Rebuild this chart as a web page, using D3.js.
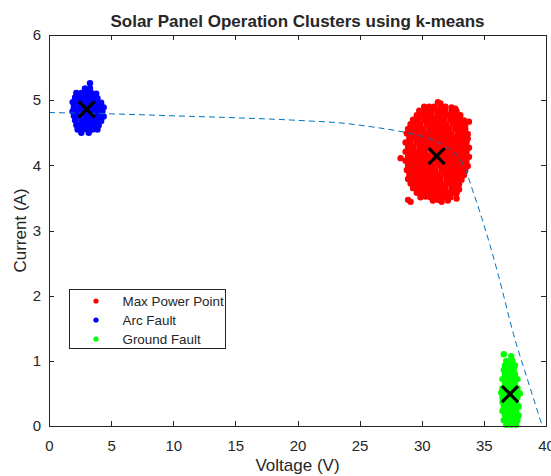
<!DOCTYPE html>
<html>
<head>
<meta charset="utf-8">
<script src="https://cdn.jsdelivr.net/npm/d3@7"></script>
<style>
  body { margin: 0; background: #fff; }
  text { font-family: "Liberation Sans", Arial, Helvetica, sans-serif; fill: #262626; }
</style>
</head>
<body>
<div id="chart"></div>
<script>
// axis ticks
var xTicks = [0, 5, 10, 15, 20, 25, 30, 35, 40];
var yTicks = [0, 1, 2, 3, 4, 5, 6];

// cluster samples [voltage, current]
var maxPower = [
  [31.5,4.95],[31.3,4.97],[30.0,4.82],[33.8,4.67],[28.3,4.11],[28.9,3.47],[30.3,3.52],[31.6,3.44],[32.8,3.49],[33.1,4.77],
  [30.2,4.90],[30.6,4.90],[31.0,4.90],[31.5,4.90],[31.9,4.90],[32.4,4.89],[32.7,4.87],
  [29.8,4.84],[30.3,4.84],[30.7,4.84],[31.1,4.84],[31.5,4.84],[31.9,4.84],[32.4,4.84],[32.8,4.83],
  [29.6,4.77],[30.0,4.77],[30.4,4.77],[30.8,4.77],[31.3,4.77],[31.7,4.77],[32.1,4.77],[32.5,4.77],[32.9,4.77],
  [29.3,4.70],[29.7,4.70],[30.2,4.70],[30.6,4.70],[31.0,4.70],[31.4,4.70],[31.8,4.70],[32.3,4.70],[32.7,4.70],[33.1,4.70],[33.4,4.69],
  [29.1,4.63],[29.5,4.63],[29.9,4.63],[30.4,4.63],[30.8,4.63],[31.2,4.63],[31.6,4.63],[32.0,4.63],[32.5,4.63],[32.9,4.63],[33.3,4.63],[33.5,4.61],
  [28.9,4.56],[29.3,4.56],[29.7,4.56],[30.1,4.56],[30.6,4.56],[31.0,4.56],[31.4,4.56],[31.8,4.56],[32.2,4.56],[32.7,4.56],[33.1,4.56],[33.5,4.56],
  [28.8,4.49],[29.2,4.49],[29.6,4.49],[30.0,4.49],[30.4,4.49],[30.8,4.49],[31.2,4.49],[31.6,4.49],[32.0,4.49],[32.4,4.49],[32.9,4.49],[33.3,4.49],[33.7,4.48],
  [29.0,4.42],[29.4,4.42],[29.8,4.42],[30.2,4.42],[30.6,4.42],[31.0,4.42],[31.4,4.42],[31.8,4.42],[32.2,4.42],[32.6,4.42],[33.0,4.42],[33.4,4.42],[33.7,4.41],
  [28.7,4.35],[29.1,4.35],[29.6,4.35],[30.0,4.35],[30.4,4.35],[30.8,4.35],[31.2,4.35],[31.6,4.35],[32.0,4.35],[32.4,4.35],[32.8,4.35],[33.2,4.35],[33.6,4.35],
  [28.9,4.28],[29.3,4.28],[29.8,4.28],[30.2,4.28],[30.6,4.28],[31.0,4.28],[31.4,4.28],[31.8,4.28],[32.2,4.28],[32.6,4.28],[33.0,4.28],[33.4,4.28],[33.8,4.27],
  [28.7,4.21],[29.1,4.21],[29.5,4.21],[29.9,4.21],[30.3,4.21],[30.8,4.21],[31.2,4.21],[31.6,4.21],[32.0,4.21],[32.4,4.21],[32.8,4.21],[33.2,4.21],[33.6,4.21],
  [28.9,4.14],[29.3,4.14],[29.7,4.14],[30.1,4.14],[30.5,4.14],[31.0,4.14],[31.4,4.14],[31.8,4.14],[32.2,4.14],[32.6,4.14],[33.0,4.14],[33.4,4.14],[33.8,4.13],
  [28.7,4.07],[29.1,4.07],[29.5,4.07],[29.9,4.07],[30.3,4.07],[30.7,4.07],[31.2,4.07],[31.6,4.07],[32.0,4.07],[32.4,4.07],[32.8,4.07],[33.2,4.07],[33.6,4.07],
  [28.9,4.00],[29.3,4.00],[29.7,4.00],[30.1,4.00],[30.5,4.00],[30.9,4.00],[31.4,4.00],[31.8,4.00],[32.2,4.00],[32.6,4.00],[33.0,4.00],[33.4,4.00],[33.7,3.99],
  [28.8,3.93],[29.1,3.93],[29.5,3.93],[29.9,3.93],[30.3,3.93],[30.7,3.93],[31.1,3.93],[31.6,3.93],[32.0,3.93],[32.4,3.93],[32.8,3.93],[33.2,3.93],[33.5,3.92],
  [29.0,3.86],[29.3,3.86],[29.7,3.86],[30.1,3.86],[30.5,3.86],[30.9,3.86],[31.3,3.86],[31.8,3.86],[32.2,3.86],[32.6,3.86],[33.0,3.86],[33.4,3.85],
  [28.9,3.79],[29.2,3.79],[29.5,3.79],[29.9,3.79],[30.3,3.79],[30.7,3.79],[31.1,3.79],[31.5,3.79],[32.0,3.79],[32.4,3.79],[32.8,3.79],[33.2,3.78],
  [29.1,3.72],[29.4,3.72],[29.7,3.72],[30.1,3.72],[30.5,3.72],[30.9,3.72],[31.3,3.72],[31.7,3.72],[32.2,3.72],[32.6,3.72],[33.0,3.71],
  [29.3,3.65],[29.6,3.65],[29.9,3.65],[30.3,3.65],[30.7,3.65],[31.1,3.65],[31.5,3.65],[31.9,3.65],[32.4,3.65],[32.8,3.65],[33.0,3.63],
  [29.6,3.58],[29.9,3.58],[30.1,3.58],[30.5,3.58],[30.9,3.58],[31.3,3.58],[31.7,3.58],[32.1,3.58],[32.5,3.58],[32.8,3.57],
  [29.9,3.51],[30.7,3.51],[31.1,3.51],[31.5,3.51],[31.9,3.51],[32.3,3.51],
  [29.1,3.44],[30.9,3.46],[31.3,3.47],[32.1,3.46]
];

var arcFault = [
  [3.3,5.26],
  [2.9,5.18],[3.3,5.18],
  [2.2,5.11],[2.6,5.11],[3.0,5.11],[3.4,5.11],[3.8,5.10],
  [2.1,5.04],[2.4,5.04],[2.8,5.04],[3.2,5.04],[3.6,5.04],[3.9,5.03],
  [1.9,4.97],[2.3,4.97],[2.7,4.97],[3.1,4.97],[3.5,4.97],[3.9,4.97],[4.2,4.96],
  [2.0,4.90],[2.5,4.90],[2.9,4.90],[3.3,4.90],[3.7,4.90],[4.1,4.90],[4.4,4.89],
  [1.9,4.83],[2.3,4.83],[2.7,4.83],[3.1,4.83],[3.5,4.83],[3.9,4.83],[4.3,4.83],
  [2.0,4.76],[2.4,4.76],[2.9,4.76],[3.3,4.76],[3.7,4.76],[4.1,4.76],[4.4,4.75],
  [2.1,4.69],[2.6,4.69],[3.0,4.69],[3.4,4.69],[3.8,4.69],[4.2,4.68],
  [2.2,4.62],[2.5,4.62],[2.9,4.62],[3.3,4.62],[3.7,4.62],[4.0,4.61],
  [2.3,4.55],[2.7,4.55],[3.1,4.55],[3.5,4.55],[3.9,4.55],
  [2.6,4.50],[3.2,4.50]
];

var groundFault = [
  [36.6,1.10],[37.2,1.07],
  [36.8,1.00],[37.3,1.00],
  [36.7,0.93],[37.1,0.93],[37.5,0.93],
  [36.6,0.86],[37.0,0.86],[37.4,0.86],
  [36.7,0.79],[37.1,0.79],[37.5,0.79],
  [36.5,0.72],[36.9,0.72],[37.3,0.72],[37.7,0.72],
  [36.7,0.65],[37.1,0.65],[37.5,0.65],
  [36.5,0.58],[36.9,0.58],[37.3,0.58],[37.7,0.58],
  [36.4,0.51],[36.8,0.51],[37.2,0.51],[37.6,0.51],[37.9,0.50],
  [36.5,0.44],[36.9,0.44],[37.3,0.44],[37.7,0.44],
  [36.5,0.37],[36.8,0.37],[37.2,0.37],[37.6,0.37],
  [36.6,0.30],[37.0,0.30],[37.4,0.30],[37.8,0.30],
  [36.5,0.23],[36.8,0.23],[37.2,0.23],[37.6,0.23],
  [36.7,0.16],[37.0,0.16],[37.4,0.16],[37.8,0.16],
  [36.6,0.09],[36.9,0.09],[37.3,0.09],[37.7,0.09],
  [36.8,0.02],[37.2,0.02],[37.6,0.02]
];

// k-means centroids
var centroids = [[31.2, 4.14], [3.03, 4.86], [37.1, 0.49]];

// I-V curve (dashed)
var ivCurve = [
  [0,4.81],[5,4.79],[10,4.76],[15,4.73],[20,4.69],[24,4.64],[26,4.59],[28,4.53],
  [29.5,4.47],[30.5,4.42],[31.5,4.33],[32.3,4.24],[32.9,4.14],[33.6,3.90],[34.0,3.67],
  [34.7,3.27],[35.5,2.77],[36.2,2.29],[37.4,1.40],[38.5,0.72],[39.7,0.0]
];

var seriesNames = ["Max Power Point", "Arc Fault", "Ground Fault"];
var seriesColors = ["#ff0000", "#0000ff", "#00ff00"];

var margin = {top: 35, right: 5, bottom: 50, left: 49},
    width = 551 - margin.left - margin.right,
    height = 476 - margin.top - margin.bottom;

var svg = d3.select("#chart")
  .append("svg")
    .attr("width", 551)
    .attr("height", 476)
  .append("g")
    .attr("transform", "translate(" + margin.left + "," + margin.top + ")");

var x = d3.scaleLinear().domain([0, 40]).range([0, width]);
var y = d3.scaleLinear().domain([0, 6]).range([height, 0]);

// scatter clusters
[maxPower, arcFault, groundFault].forEach(function(pts, k) {
  svg.append("g")
    .selectAll("circle")
    .data(pts)
    .enter().append("circle")
      .attr("cx", function(d) { return x(d[0]); })
      .attr("cy", function(d) { return y(d[1]); })
      .attr("r", 3.2)
      .attr("fill", seriesColors[k]);
});

// dashed curve on top
svg.append("path")
  .datum(ivCurve)
  .attr("fill", "none")
  .attr("stroke", "#0072bd")
  .attr("stroke-width", 1)
  .attr("stroke-dasharray", "6,4")
  .attr("d", d3.line().curve(d3.curveMonotoneX)
    .x(function(d) { return x(d[0]); })
    .y(function(d) { return y(d[1]); }));

// centroid crosses
var s = 8;
svg.append("g")
  .selectAll("path")
  .data(centroids)
  .enter().append("path")
    .attr("d", function(d) {
      var cx = x(d[0]), cy = y(d[1]);
      return "M" + (cx - s) + "," + (cy - s) + "L" + (cx + s) + "," + (cy + s) +
             "M" + (cx - s) + "," + (cy + s) + "L" + (cx + s) + "," + (cy - s);
    })
    .attr("stroke", "#000")
    .attr("stroke-width", 3.2)
    .attr("fill", "none");

// axes, MATLAB style: ticks pointing inward on all four sides
function styleAxis(g) {
  g.select(".domain").remove();
  g.selectAll("line").attr("stroke", "#262626").attr("shape-rendering", "crispEdges");
  g.selectAll("text").style("font-size", "15px").attr("fill", "#262626")
    .style("font-family", '"Liberation Sans", Arial, sans-serif');
}

svg.append("g")
  .attr("transform", "translate(0," + height + ")")
  .call(d3.axisBottom(x).tickValues(xTicks).tickSize(-5).tickPadding(14).tickFormat(d3.format("d")))
  .call(styleAxis);
svg.append("g")
  .call(d3.axisTop(x).tickValues(xTicks).tickSize(-5).tickFormat(""))
  .call(styleAxis);
svg.append("g")
  .call(d3.axisLeft(y).tickValues(yTicks).tickSize(-5).tickPadding(8).tickFormat(d3.format("d")))
  .call(styleAxis);
svg.append("g")
  .attr("transform", "translate(" + width + ",0)")
  .call(d3.axisRight(y).tickValues(yTicks).tickSize(-5).tickFormat(""))
  .call(styleAxis);

svg.append("rect")
  .attr("x", 0.5).attr("y", 0.5)
  .attr("width", width - 0.5).attr("height", height)
  .attr("fill", "none")
  .attr("stroke", "#262626")
  .attr("shape-rendering", "crispEdges");

// titles
svg.append("text")
  .attr("x", width / 2).attr("y", -8)
  .attr("text-anchor", "middle")
  .style("font-size", "17px").style("font-weight", "bold")
  .attr("fill", "#000")
  .text("Solar Panel Operation Clusters using k-means");
svg.append("text")
  .attr("x", width / 2).attr("y", height + 45)
  .attr("text-anchor", "middle")
  .style("font-size", "17px")
  .text("Voltage (V)");
svg.append("text")
  .attr("transform", "translate(-23," + (height / 2) + ") rotate(-90)")
  .attr("text-anchor", "middle")
  .style("font-size", "17px")
  .text("Current (A)");

// legend
var legend = svg.append("g").attr("transform", "translate(20.5,254.5)");
legend.append("rect")
  .attr("width", 156).attr("height", 59)
  .attr("fill", "#fff")
  .attr("stroke", "#262626")
  .attr("shape-rendering", "crispEdges");
seriesNames.forEach(function(name, i) {
  legend.append("circle")
    .attr("cx", 26.5).attr("cy", 11.5 + i * 19)
    .attr("r", 2.6)
    .attr("fill", seriesColors[i]);
  legend.append("text")
    .attr("x", 53).attr("y", 11.5 + i * 19)
    .attr("dy", "0.35em")
    .style("font-size", "13.4px")
    .attr("fill", "#000")
    .text(name);
});
</script>
</body>
</html>
